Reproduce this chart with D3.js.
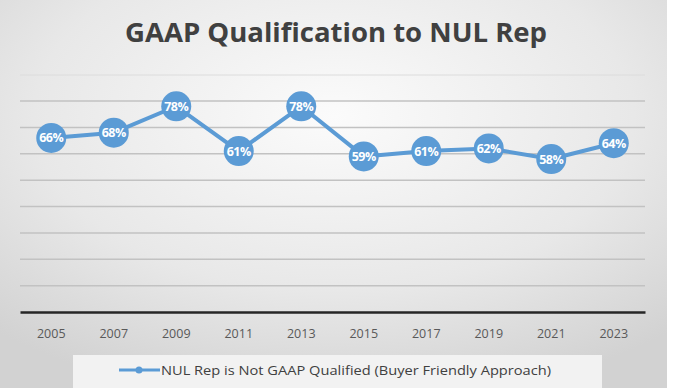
<!DOCTYPE html>
<html>
<head>
<meta charset="utf-8">
<script src="https://cdn.jsdelivr.net/npm/d3@7"></script>
<style>
  body { margin: 0; background: #fff; }
  svg { display: block; }
</style>
</head>
<body>
<div id="chart"></div>
<script>
// --- data ---
const years = ['2005', '2007', '2009', '2011', '2013', '2015', '2017', '2019', '2021', '2023'];
const notQualified = [66, 68, 78, 61, 78, 59, 61, 62, 58, 64];
const gridValues = [0, 10, 20, 30, 40, 50, 60, 70, 80];
const seriesName = 'NUL Rep is Not GAAP Qualified (Buyer Friendly Approach)';
const chartTitle = 'GAAP Qualification to NUL Rep';

const W = 685, H = 388;
const blue = '#5b9bd5';
const font = '"Open Sans", sans-serif';

const svg = d3.select('#chart').append('svg')
    .attr('width', W)
    .attr('height', H);

// Background: soft radial gray like the slide
const defs = svg.append('defs');
const grad = defs.append('radialGradient')
    .attr('id', 'bg')
    .attr('cx', '50%').attr('cy', '30%').attr('r', '75%');
grad.append('stop').attr('offset', '0%').attr('stop-color', '#fbfbfb');
grad.append('stop').attr('offset', '60%').attr('stop-color', '#e8e8e8');
grad.append('stop').attr('offset', '100%').attr('stop-color', '#d2d2d2');

svg.append('rect')
    .attr('width', 667).attr('height', H)
    .attr('fill', 'url(#bg)');

// faint separator under title
svg.append('line')
    .attr('x1', 20).attr('x2', 645)
    .attr('y1', 75).attr('y2', 75)
    .attr('stroke', '#dcdcdc').attr('stroke-width', 1);

// Title
svg.append('text')
    .attr('x', 336).attr('y', 42)
    .attr('text-anchor', 'middle')
    .attr('font-family', font)
    .attr('font-weight', 700)
    .attr('font-size', 27)
    .attr('textLength', 422)
    .attr('lengthAdjust', 'spacingAndGlyphs')
    .attr('fill', '#404040')
    .text(chartTitle);

// --- scales ---
const x = d3.scaleBand()
    .domain(years)
    .range([20, 645]);

const y = d3.scaleLinear()
    .domain([0, 80])
    .range([312, 101]);

// Gridlines
svg.append('g')
    .selectAll('line')
    .data(gridValues.filter(v => v > 0))
    .join('line')
    .attr('x1', 20).attr('x2', 645)
    .attr('y1', d => y(d)).attr('y2', d => y(d))
    .attr('stroke', '#c2c2c2')
    .attr('stroke-width', 1.5);

// X axis
const xAxis = svg.append('g')
    .attr('transform', `translate(0,${y(0)})`)
    .call(d3.axisBottom(x).tickSize(0).tickPadding(17));
xAxis.select('.domain')
    .attr('stroke', '#262626')
    .attr('stroke-width', 2.5);
xAxis.selectAll('text')
    .attr('font-family', font)
    .attr('font-size', 12.5)
    .attr('fill', '#595959');

// Line
const cx = (d, i) => x(years[i]) + x.bandwidth() / 2;
const line = d3.line()
    .x((d, i) => cx(d, i))
    .y(d => y(d));

svg.append('path')
    .datum(notQualified)
    .attr('fill', 'none')
    .attr('stroke', blue)
    .attr('stroke-width', 4)
    .attr('stroke-linejoin', 'round')
    .attr('d', line);

// Markers with labels
const pts = svg.append('g')
    .selectAll('g')
    .data(notQualified)
    .join('g')
    .attr('transform', (d, i) => `translate(${cx(d, i)},${y(d)})`);

pts.append('circle')
    .attr('r', 15)
    .attr('fill', blue);

pts.append('text')
    .attr('text-anchor', 'middle')
    .attr('dy', '0.36em')
    .attr('font-family', font)
    .attr('font-weight', 700)
    .attr('font-size', 12.5)
    .attr('letter-spacing', -0.5)
    .attr('fill', '#fff')
    .text(d => d + '%');

// Legend
const legend = svg.append('g');
legend.append('rect')
    .attr('x', 73).attr('y', 355)
    .attr('width', 529).attr('height', 33)
    .attr('fill', '#f2f2f2');
legend.append('line')
    .attr('x1', 119).attr('x2', 160)
    .attr('y1', 370).attr('y2', 370)
    .attr('stroke', blue).attr('stroke-width', 3);
legend.append('circle')
    .attr('cx', 139).attr('cy', 370)
    .attr('r', 3.5).attr('fill', blue);
legend.append('text')
    .attr('x', 161).attr('y', 370)
    .attr('dy', '0.35em')
    .attr('font-family', font)
    .attr('font-size', 13.5)
    .attr('textLength', 390)
    .attr('lengthAdjust', 'spacingAndGlyphs')
    .attr('fill', '#404040')
    .text(seriesName);
</script>
</body>
</html>
